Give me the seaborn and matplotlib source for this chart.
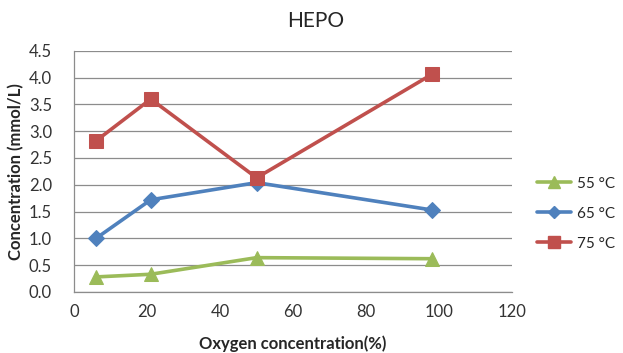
import matplotlib
matplotlib.use("Agg")
import matplotlib.pyplot as plt
import seaborn as sns
import pandas as pd
from matplotlib.lines import Line2D

oxygen = [6, 21, 50, 98]
series_names = ["55 °C", "65 °C", "75 °C"]
conc_55 = [0.28, 0.33, 0.64, 0.62]
conc_65 = [1.00, 1.72, 2.04, 1.53]
conc_75 = [2.82, 3.60, 2.13, 4.06]
x_ticks = [0, 20, 40, 60, 80, 100, 120]
y_ticks = [0.0, 0.5, 1.0, 1.5, 2.0, 2.5, 3.0, 3.5, 4.0, 4.5]

colors = {"55 °C": "#9BBB59", "65 °C": "#4F81BD", "75 °C": "#C0504D"}
markers = {"55 °C": "^", "65 °C": "D", "75 °C": "s"}
msizes = {"55 °C": 10, "65 °C": 8, "75 °C": 10}

rows = []
for name, vals in zip(series_names, [conc_55, conc_65, conc_75]):
    for x, y in zip(oxygen, vals):
        rows.append({"Oxygen": x, "Concentration": y, "Series": name})
df = pd.DataFrame(rows)

sns.set_style("white")
plt.rcParams["font.family"] = ["Lato", "DejaVu Sans"]

fig = plt.figure(figsize=(6.23, 3.53), dpi=100)
ax = fig.add_axes([0.119, 0.173, 0.703, 0.683])

for name in series_names:
    sub = df[df["Series"] == name]
    sns.lineplot(data=sub, x="Oxygen", y="Concentration", ax=ax,
                 color=colors[name], marker=markers[name],
                 markersize=msizes[name], markeredgecolor=colors[name],
                 linewidth=2.6, legend=False, zorder=3)

ax.set_xlim(0, 120)
ax.set_ylim(0, 4.5)
ax.set_xticks(x_ticks)
ax.set_yticks(y_ticks)
ax.set_yticklabels([f"{v:.1f}" for v in y_ticks])
ax.tick_params(axis="y", length=0, labelsize=12, colors="#333333", pad=16)
ax.tick_params(axis="x", length=0, labelsize=12, colors="#333333", pad=9)
ax.grid(axis="y", color="#8c8c8c", linewidth=0.9)
ax.grid(axis="x", visible=False)
for side in ["top", "right"]:
    ax.spines[side].set_visible(False)
for side in ["left", "bottom"]:
    ax.spines[side].set_color("#8c8c8c")
    ax.spines[side].set_linewidth(0.9)

ax.set_xlabel("Oxygen concentration(%)", fontsize=12, fontweight="bold", labelpad=11)
ax.set_ylabel("Concentration (mmol/L)", fontsize=12, fontweight="bold", labelpad=3)
fig.text(0.506, 0.94, "HEPO", fontsize=15, ha="center", va="center")

handles = [Line2D([0], [0], color=colors[n], marker=markers[n],
                  markersize=msizes[n] - 2, linewidth=2.6) for n in series_names]
fig.legend(handles, series_names, loc="center left",
           bbox_to_anchor=(0.862, 0.395), frameon=False, fontsize=11,
           borderpad=0, borderaxespad=0,
           handlelength=2.2, labelspacing=1.05, handletextpad=0.4)

fig.savefig("out.png", dpi=100)
